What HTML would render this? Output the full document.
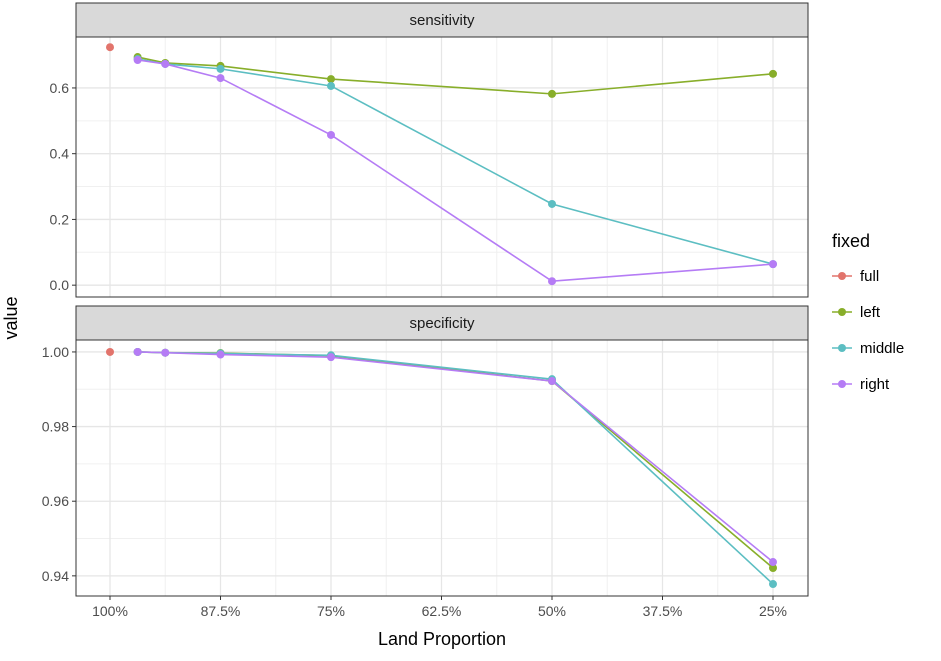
<!DOCTYPE html>
<html><head><meta charset="utf-8"><style>
body{margin:0;background:#fff;font-family:"Liberation Sans",Arial,sans-serif}
svg text{font-family:"Liberation Sans",Arial,sans-serif}
</style></head><body>
<svg id="chart" width="941" height="656" xmlns="http://www.w3.org/2000/svg"></svg>
<script>
const xCats=[100,96.875,93.75,87.5,75,50,25];
const xTickVals=[100,87.5,75,62.5,50,37.5,25];
const xTickLabels=["100%","87.5%","75%","62.5%","50%","37.5%","25%"];
const seriesNames=["full","left","middle","right"];
const colors=["#E2746C","#88AE2A","#5CBEC2","#B57CF5"];
const sensFull=[0.724];
const sensLeft=[null,0.694,0.676,0.667,0.627,0.582,0.643];
const sensMiddle=[null,0.688,0.673,0.658,0.606,0.247,0.064];
const sensRight=[null,0.685,0.673,0.630,0.457,0.012,0.064];
const specFull=[1.0];
const specLeft=[null,1.0,0.9998,0.9997,0.9990,0.9922,0.9421];
const specMiddle=[null,1.0,0.9998,0.9996,0.9991,0.9927,0.9378];
const specRight=[null,1.0,0.9998,0.9993,0.9986,0.9922,0.9437];
const sensTicks=[0,0.2,0.4,0.6];const sensTickLabels=["0.0","0.2","0.4","0.6"];
const specTicks=[0.94,0.96,0.98,1.0];const specTickLabels=["0.94","0.96","0.98","1.00"];

const svg=document.getElementById('chart');const NS="http://www.w3.org/2000/svg";
function mk(t,a,p){const e=document.createElementNS(NS,t);for(const k in a)e.setAttribute(k,a[k]);(p||svg).appendChild(e);return e;}
const L=76,R=808;
const x=p=>110+(100-p)/12.5*110.5;
function panel(top,bot,ymin,ymax,title,ticks,labels,data,name){
  const y=v=>bot-(v-ymin)/(ymax-ymin)*(bot-top);
  const g=mk('g',{});
  const s=mk('rect',{x:L,y:top-34,width:R-L,height:34,fill:'#d9d9d9',stroke:'#333','stroke-width':1},g);
  
  const st=mk('text',{x:(L+R)/2,y:top-12,'text-anchor':'middle','font-size':15,fill:'#1a1a1a'},g);st.textContent=title;
  
  for(let i=0;i<xTickVals.length-1;i++){const xm=(x(xTickVals[i])+x(xTickVals[i+1]))/2;mk('line',{x1:xm,x2:xm,y1:top,y2:bot,stroke:'#f0f0f0','stroke-width':1},g);}
  for(let i=0;i<ticks.length-1;i++){const ym=(y(ticks[i])+y(ticks[i+1]))/2;mk('line',{x1:L,x2:R,y1:ym,y2:ym,stroke:'#f0f0f0','stroke-width':1},g);}
  ticks.forEach((t,i)=>{mk('line',{x1:L,x2:R,y1:y(t),y2:y(t),stroke:'#e6e6e6','stroke-width':1.3},g);
    mk('line',{x1:L-4,x2:L,y1:y(t),y2:y(t),stroke:'#333'},g);
    const tx=mk('text',{x:L-7,y:y(t)+5,'text-anchor':'end','font-size':14,fill:'#4d4d4d'},g);tx.textContent=labels[i];
    });
  xTickVals.forEach(v=>mk('line',{x1:x(v),x2:x(v),y1:top,y2:bot,stroke:'#e6e6e6','stroke-width':1.3},g));
  data.forEach((arr,si)=>{
    const pts=[];arr.forEach((v,i)=>{if(v!=null)pts.push([x(xCats[i]),y(v)]);});
    if(pts.length>1){const pl=mk('polyline',{points:pts.map(p=>p.join(',')).join(' '),fill:'none',stroke:colors[si],'stroke-width':1.6},g);
      }
    pts.forEach(p=>{const c=mk('circle',{cx:p[0],cy:p[1],r:4,fill:colors[si]},g);
      });
  });
  mk('rect',{x:L,y:top,width:R-L,height:bot-top,fill:'none',stroke:'#333','stroke-width':1},g);
  return g;
}
panel(37,297,-0.036,0.755,'sensitivity',sensTicks,sensTickLabels,[sensFull,sensLeft,sensMiddle,sensRight],'sensitivity');
panel(340,596,0.9346,1.0032,'specificity',specTicks,specTickLabels,[specFull,specLeft,specMiddle,specRight],'specificity');
xTickVals.forEach((v,i)=>{mk('line',{x1:x(v),x2:x(v),y1:596,y2:600,stroke:'#333'});
  const t=mk('text',{x:x(v),y:616,'text-anchor':'middle','font-size':14,fill:'#4d4d4d'});t.textContent=xTickLabels[i];
  });
const xt=mk('text',{x:442,y:645,'text-anchor':'middle','font-size':18,fill:'#000'});xt.textContent='Land Proportion';

const yt=mk('text',{x:0,y:0,'text-anchor':'middle','font-size':18,fill:'#000',transform:'translate(17,318) rotate(-90)'});yt.textContent='value';

const lt=mk('text',{x:832,y:247,'font-size':18,fill:'#000'});lt.textContent='fixed';

seriesNames.forEach((n,i)=>{const yy=276+i*36;
  const g=mk('g',{});
  mk('line',{x1:832,x2:852,y1:yy,y2:yy,stroke:colors[i],'stroke-width':1.6},g);
  mk('circle',{cx:842,cy:yy,r:4,fill:colors[i]},g);
  const t=mk('text',{x:860,y:yy+5,'font-size':15,fill:'#000'},g);t.textContent=n;});
</script>
</body></html>
